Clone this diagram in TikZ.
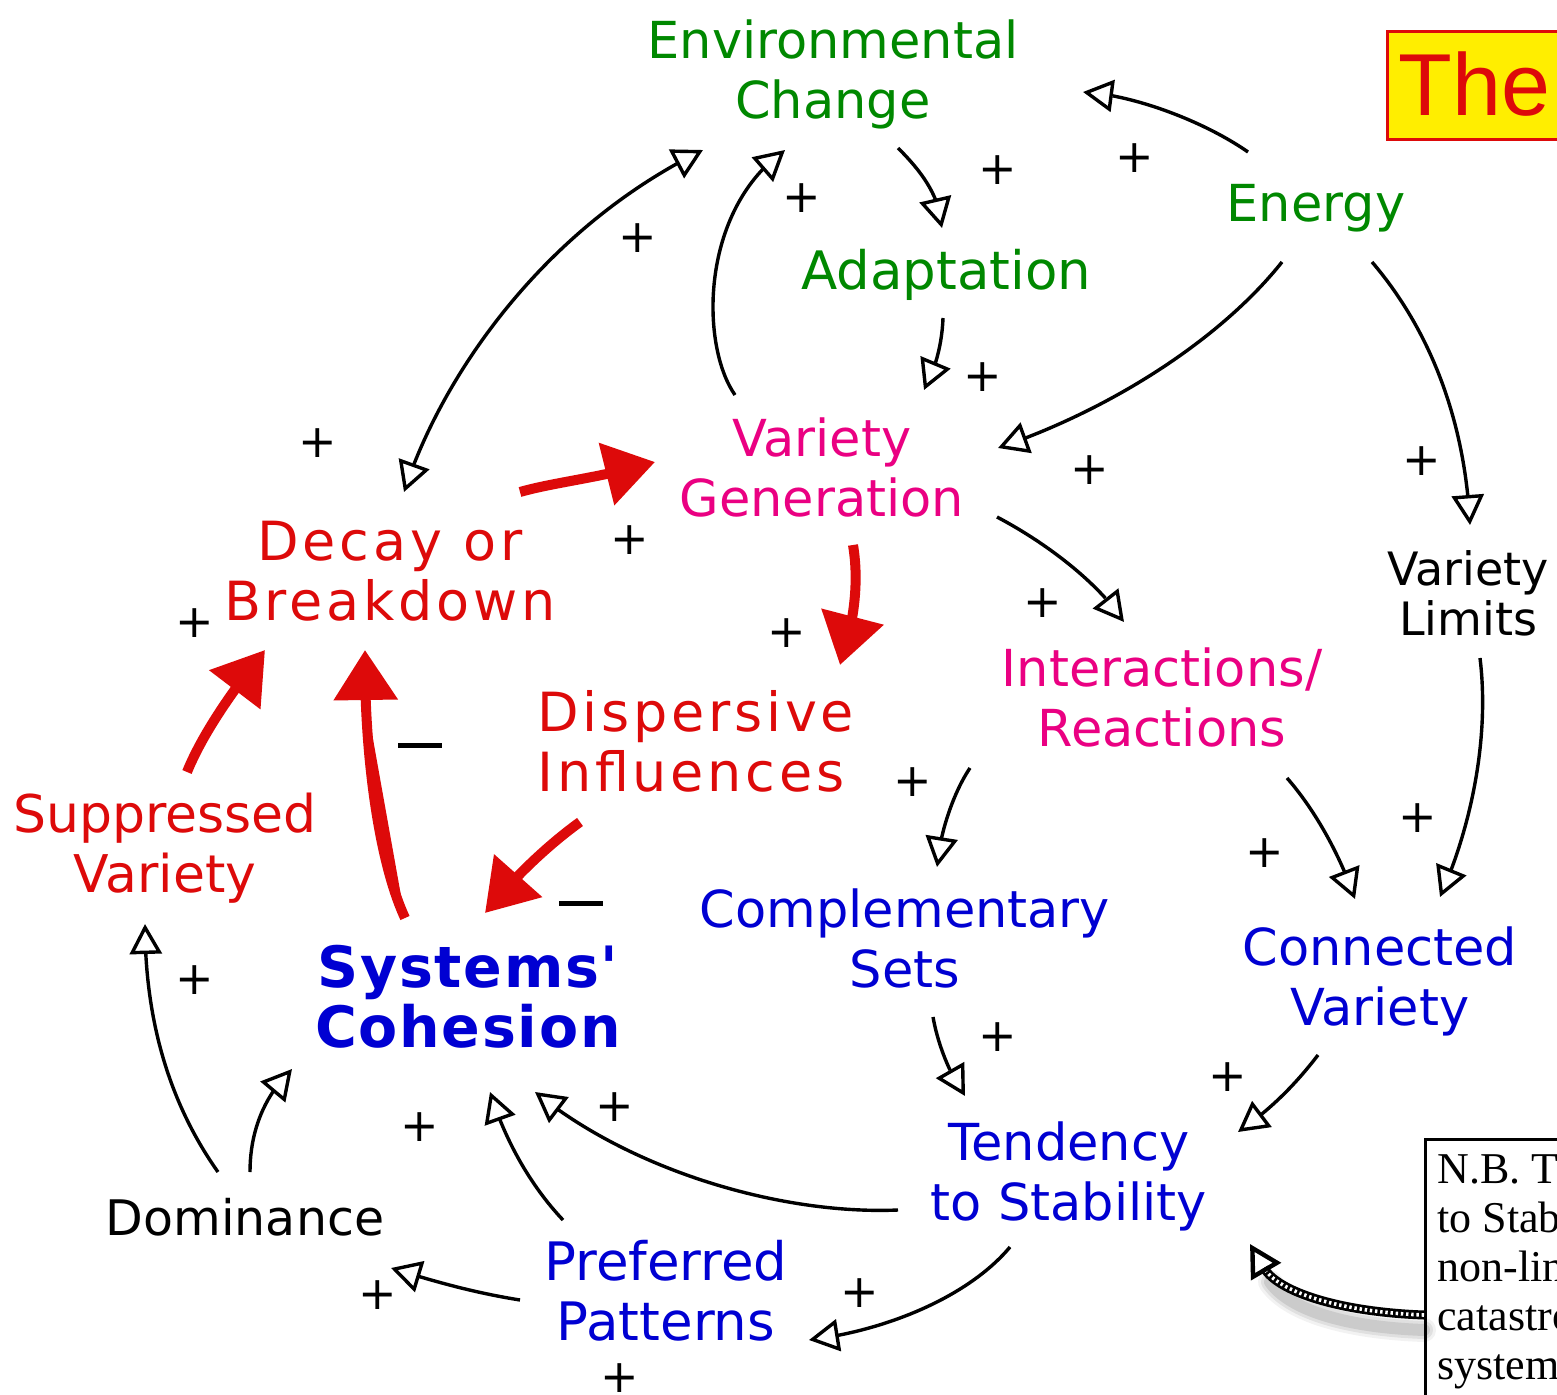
\documentclass[tikz,border=0pt]{standalone}
\usepackage{fontspec}
\usetikzlibrary{arrows.meta,calc,bending}
\newfontfamily\labfont{DejaVu Sans}
\newfontfamily\spacedfont[LetterSpace=7]{DejaVu Sans}
\newfontfamily\cohfont[LetterSpace=3]{DejaVu Sans}
\newfontfamily\titlefont{Liberation Sans}
\newfontfamily\notefont{Liberation Serif}
\definecolor{envgreen}{RGB}{0,136,0}
\definecolor{genpink}{RGB}{234,0,130}
\definecolor{loopred}{RGB}{221,10,10}
\definecolor{setblue}{RGB}{0,0,210}
\definecolor{bannerY}{RGB}{255,238,0}

\begin{document}
\begin{tikzpicture}[x=0.5pt,y=-0.5pt,
  lbl/.style={inner sep=0pt, align=center, font=\labfont\fontsize{25.5}{30}\selectfont},
  spaced/.style={inner sep=0pt, align=left, font=\spacedfont\fontsize{27}{30}\selectfont},
  sign/.style={inner sep=0pt, font=\labfont\fontsize{23}{23}\selectfont},
  minus/.style={inner sep=0pt},
  link/.style={line width=1.7pt, -{Triangle[open,length=15pt,width=16pt]}},
  biLink/.style={line width=1.7pt, {Triangle[open,length=15pt,width=16pt]}-{Triangle[open,length=15pt,width=16pt]}},
  flow/.style={draw=loopred, fill=loopred, line width=5pt, -{Triangle[length=25pt,width=31pt]}},
]
\useasboundingbox (0,0) rectangle (1557,1395);
\clip (0,0) rectangle (1557,1395);
\fill[white] (0,0) rectangle (1557,1395);

% ---- labels ----
\node[lbl, text=envgreen] (env) at (833,74) {Environmental\\Change};
\node[lbl, text=envgreen, anchor=base] (energy) at (1316,222) {Energy};
\node[lbl, text=envgreen, anchor=base, font=\labfont\fontsize{26.5}{30}\selectfont] (adapt) at (946,290) {Adaptation};
\node[spaced, align=center, text=loopred] (decay) at (390,571) {Decay or\\Breakdown};
\node[lbl, text=genpink] (vargen) at (822,467) {Variety\\Generation};
\node[lbl, text=loopred, font=\labfont\fontsize{26}{30}\selectfont] (supp) at (165,848) {Suppressed\\Variety};
\node[spaced, text=loopred, anchor=west] (disp) at (537,741) {Dispersive\\Influences};
\node[lbl, text=genpink] (inter) at (1162,697) {Interactions/\\Reactions};
\node[lbl, font=\labfont\fontsize{23}{25}\selectfont] (vlim) at (1468,593) {Variety\\Limits};
\node[lbl, text=setblue] (comp) at (905,938) {Complementary\\Sets};
\node[lbl, text=setblue] (conn) at (1380,981) {Connected\\Variety};
\node[lbl, text=setblue, font=\cohfont\bfseries\fontsize{28.5}{30}\selectfont] (cohes) at (468,997) {Systems'\\Cohesion};
\node[lbl, text=setblue] (tend) at (1069,1176) {Tendency\\to Stability};
\node[lbl, text=setblue, font=\labfont\fontsize{26.5}{30}\selectfont] (pref) at (666,1291) {Preferred\\Patterns};
\node[lbl, anchor=base, font=\labfont\fontsize{24.5}{30}\selectfont] (dom) at (245,1235) {Dominance};

% ---- banner ----
\node[draw=loopred, fill=bannerY, line width=1.5pt, anchor=north west,
      minimum width=110pt, minimum height=54pt, inner sep=0pt] (banner) at (1386,30) {};
\node[anchor=base west, inner sep=0pt, text=loopred,
      font=\titlefont\fontsize{44}{44}\selectfont] (title) at (1398,116) {The};

% ---- note box ----
\node[draw, line width=1.5pt, fill=white, anchor=north west,
      minimum width=110pt, minimum height=150pt, inner sep=0pt] (nb) at (1424,1138) {};
\node[anchor=north west, align=left, inner sep=0pt,
      font=\notefont\fontsize{22}{24.5}\selectfont] (nbtext) at (1437,1154)
      {N.B. T\\to Stab\\non-lin\\catastro\\system};

% ---- causal links ----
\draw[link] ($(energy.base)+(-68,-70)$) .. controls (1205,122) and (1135,95) .. ($(env)+(250,18)$);
\draw[link] ($(env)+(65,74)$) .. controls (920,170) and (940,195) .. ($(adapt.base)+(-4,-62)$);
\draw[link] ($(vargen)+(-87,-72)$) .. controls (700,345) and (700,210) .. ($(env)+(-48,76)$);
\draw[biLink] ($(decay)+(14,-79)$) .. controls (440,380) and (540,230) .. ($(env)+(-130,76)$);
\draw[link] ($(adapt.base)+(-3,28)$) .. controls (942,345) and (935,370) .. ($(vargen)+(102,-77)$);
\draw[link] ($(energy.base)+(-34,40)$) .. controls (1220,340) and (1110,410) .. ($(vargen)+(176,-19)$);
\draw[link] ($(energy.base)+(56,40)$) .. controls (1430,330) and (1465,420) .. ($(vlim)+(2,-68)$);
\draw[link] ($(vargen)+(175,50)$) .. controls (1050,545) and (1100,585) .. ($(inter)+(-38,-75)$);
\draw[link] ($(vlim)+(12,65)$) .. controls (1490,740) and (1470,830) .. ($(conn)+(60,-84)$);
\draw[link] ($(inter)+(-192,71)$) .. controls (955,790) and (940,830) .. ($(comp)+(32,-71)$);
\draw[link] ($(inter)+(125,81)$) .. controls (1315,810) and (1340,855) .. ($(conn)+(-25,-82)$);
\draw[link] ($(comp)+(28,79)$) .. controls (938,1045) and (950,1075) .. ($(tend)+(-104,-80)$);
\draw[link] ($(conn)+(-62,74)$) .. controls (1295,1085) and (1270,1110) .. ($(tend)+(169,-44)$);
\draw[link] ($(tend)+(-171,34)$) .. controls (780,1215) and (630,1170) .. ($(cohes)+(67,95)$);
\draw[link] ($(tend)+(-59,71)$) .. controls (970,1295) and (890,1330) .. ($(pref)+(143,49)$);
\draw[link] ($(pref)+(-103,-71)$) .. controls (530,1185) and (505,1140) .. ($(cohes)+(22,95)$);
\draw[link] ($(pref)+(-146,9)$) .. controls (470,1292) and (430,1280) .. ($(dom.base)+(146,33)$);
\draw[link] ($(dom.base)+(5,-63)$) .. controls (250,1130) and (265,1095) .. ($(cohes)+(-176,72)$);
\draw[link] ($(dom.base)+(-27,-63)$) .. controls (160,1090) and (145,1000) .. ($(supp)+(-20,76)$);

% ---- main loop (red) ----
\draw[flow] ($(decay)+(130,-79)$) .. controls (555,482) and (600,478) .. ($(vargen)+(-167,-5)$);
\draw[flow] ($(vargen)+(31,78)$) .. controls (858,575) and (857,615) .. ($(disp.west)+(303,-76)$);
\draw[flow] ($(disp.west)+(43,81)$) .. controls (555,840) and (520,870) .. ($(cohes)+(17,-84)$);
\draw[flow] ($(cohes)+(-63,-79)$) .. controls (378,860) and (364,750) .. ($(decay)+(-25,79)$);
\draw[flow] ($(supp)+(22,-76)$) .. controls (200,740) and (225,700) .. ($(decay)+(-125,79)$);

% ---- pointer from the note (textured, with soft shadow) ----
\coordinate (nbTip) at (1250,1244);
\coordinate (nbNeck) at (1264,1268);
\foreach \w/\o in {12/0.05,9/0.07,6/0.09}
  \draw[line width=\w pt, black, opacity=\o, line cap=round]
    ($(nb.north west)+(0,192)$) .. controls (1340,1327) and (1288,1308) .. (1270,1282);
\draw[line width=4.5pt]
  ($(nb.north west)+(0,177)$) .. controls (1340,1312) and (1278,1292) .. (nbNeck);
\draw[line width=1.8pt, white, dash pattern=on 1.2pt off 1.4pt]
  ($(nb.north west)+(0,177)$) .. controls (1340,1312) and (1278,1292) .. (nbNeck);
\draw[line width=2.2pt, -{Triangle[open,length=16pt,width=17pt]}] (nbNeck) -- (nbTip);

% ---- polarity signs ----
\foreach \p in {(1135,158),(998,170),(802,198),(638,238),(318,443),(983,377),
  (1090,470),(1422,461),(1043,603),(1418,818),(913,782),(1265,853),(998,1037),
  (1228,1077),(615,1107),(860,1293),(420,1127),(378,1295),(195,980),(620,1378),
  (630,540),(787,633),(195,623)}
  \node[sign] at \p {+};
\node[minus] (minusA) at (420,745) {\rule{22pt}{2.5pt}};
\node[minus] (minusB) at (581,903) {\rule{22pt}{2.5pt}};
\end{tikzpicture}
\end{document}
